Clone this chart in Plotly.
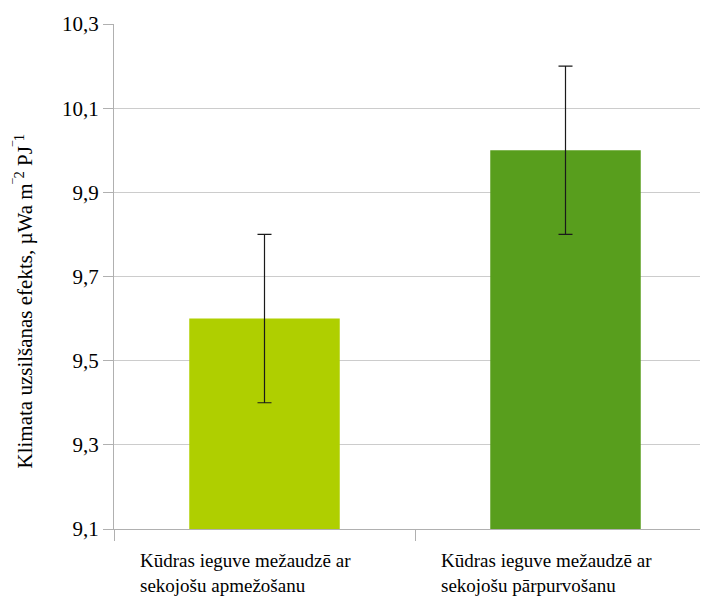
import plotly.graph_objects as go

categories = ["Kūdras ieguve mežaudzē ar<br>sekojošu apmežošanu",
              "Kūdras ieguve mežaudzē ar<br>sekojošu pārpurvošanu"]
cat_keys = ["A", "B"]
values = [9.6, 10.0]
errors = [0.2, 0.2]
colors = ["#AFCF00", "#589E1D"]
y_title = "Klimata uzsilšanas efekts, µWa m<sup>‾2</sup> PJ<sup>‾1</sup>"

FONT = "Liberation Serif"

fig = go.Figure()
fig.add_trace(go.Bar(
    x=cat_keys, y=values, width=0.5,
    marker=dict(color=colors, line=dict(width=0)),
    error_y=dict(type="data", array=errors, visible=True,
                 color="#1a1a1a", thickness=1.2, width=7),
))

for k, lab in zip(cat_keys, categories):
    fig.add_annotation(x=k, y=0, yref="paper", text=lab, showarrow=False,
                       xanchor="center", yanchor="top", align="left",
                       xshift=-19, yshift=-19,
                       font=dict(family=FONT, size=19, color="#000"))

# y-axis title as rotated annotation (reference title sits slightly below centre)
fig.add_annotation(x=0, y=0.5, xref="paper", yref="paper", text=y_title,
                   showarrow=False, textangle=-90,
                   xanchor="center", yanchor="middle",
                   xshift=-90, yshift=-25,
                   font=dict(family=FONT, size=21, color="#000"))

# page body has an 8px margin, so the figure is offset by 8px
fig.update_layout(
    width=708, height=596,
    margin=dict(l=106, r=8, t=16, b=75, autoexpand=False),
    plot_bgcolor="white", paper_bgcolor="white",
    separators=", ",
    showlegend=False,
    font=dict(family=FONT, size=18, color="#000"),
    xaxis=dict(type="category", range=[-0.5, -0.5 + (708 - 114) / 301],
               automargin=False,
               showticklabels=False, tickson="boundaries", ticks="outside",
               ticklen=11, tickcolor="#b0b0b0", showline=True,
               linecolor="#b0b0b0", linewidth=1, showgrid=False),
    yaxis=dict(range=[9.1, 10.3], tick0=9.1, dtick=0.2, tickformat=".1f",
               automargin=False,
               ticks="outside", ticklen=10, tickcolor="#b0b0b0",
               showline=True, linecolor="#b0b0b0", linewidth=1,
               showgrid=True, gridcolor="#cccccc", gridwidth=1,
               zeroline=False,
               tickfont=dict(family=FONT, size=21, color="#000")),
)
fig.write_html("out.html")
